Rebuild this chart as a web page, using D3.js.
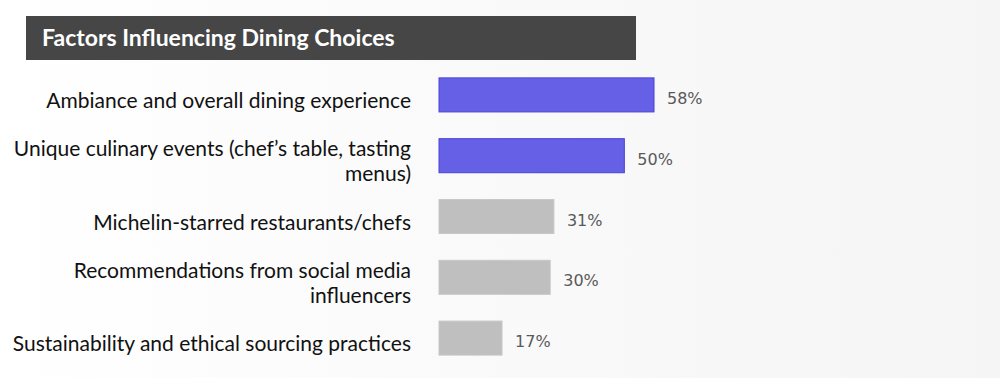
<!DOCTYPE html>
<html>
<head>
<meta charset="utf-8">
<script src="https://cdn.jsdelivr.net/npm/d3@7"></script>
<style>
  html, body { margin: 0; padding: 0; background: #fff; }
  svg { display: block; }
</style>
</head>
<body>
<div class="bar-chart"></div>
<script>
'use strict'

// Chart data.
const title = 'Factors Influencing Dining Choices';
const categories = [
    ['Ambiance and overall dining experience'],
    ['Unique culinary events (chef\u2019s table, tasting', 'menus)'],
    ['Michelin-starred restaurants/chefs'],
    ['Recommendations from social media', 'influencers'],
    ['Sustainability and ethical sourcing practices']
];
const values = [58, 50, 31, 30, 17];
const highlighted = [true, true, false, false, false];

// Dimensions.
let width = 1000,
    height = 378,
    barLeft = 439,
    labelRight = 411;

let svg = d3.select('.bar-chart')
    .append('svg')
    .attr('width', width)
    .attr('height', height);

// Soft background gradient.
let defs = svg.append('defs');
let grad = defs.append('linearGradient')
    .attr('id', 'bg')
    .attr('x1', '0%').attr('x2', '100%')
    .attr('y1', '0%').attr('y2', '0%');
grad.append('stop').attr('offset', '0%').attr('stop-color', '#ffffff');
grad.append('stop').attr('offset', '55%').attr('stop-color', '#f9f9f9');
grad.append('stop').attr('offset', '100%').attr('stop-color', '#f5f5f5');

svg.append('rect')
    .attr('width', width)
    .attr('height', height)
    .attr('fill', 'url(#bg)');

// Title banner.
svg.append('rect')
    .attr('x', 26)
    .attr('y', 16)
    .attr('width', 610)
    .attr('height', 44)
    .attr('fill', '#464646');

svg.append('text')
    .attr('x', 42)
    .attr('y', 46)
    .attr('fill', '#ffffff')
    .style('font-family', 'Lato, sans-serif')
    .style('font-weight', 'bold')
    .style('font-size', '23px')
    .text(title);

// Scales.
let idx = d3.range(values.length);

let x = d3.scaleLinear()
    .domain([0, 100])
    .range([barLeft, barLeft + 370.7]);

let y = d3.scaleBand()
    .domain(idx)
    .range([64.5, 368.5])
    .paddingInner(0.44)
    .paddingOuter(0.22);

// Bars.
svg.append('g')
    .attr('class', 'bars')
    .selectAll('rect')
    .data(idx)
    .join('rect')
    .attr('x', x(0))
    .attr('y', i => y(i))
    .attr('width', i => x(values[i]) - x(0))
    .attr('height', y.bandwidth())
    .attr('fill', i => highlighted[i] ? '#6560e6' : '#bfbfbf')
    .attr('stroke', i => highlighted[i] ? '#4a42d8' : '#c8c8c8')
    .attr('stroke-width', 1);

// Category labels (right aligned, possibly two lines).
let lineGap = 25;
svg.append('g')
    .attr('class', 'labels')
    .selectAll('text')
    .data(idx)
    .join('text')
    .attr('text-anchor', 'end')
    .attr('fill', '#111111')
    .style('font-family', 'Lato, sans-serif')
    .style('font-size', '21px')
    .each(function(i) {
        let lines = categories[i];
        let cy = y(i) + y.bandwidth() / 2;
        let first = cy + 13 - (lines.length - 1) * lineGap / 2;
        d3.select(this).selectAll('tspan')
            .data(lines)
            .join('tspan')
            .attr('x', labelRight)
            .attr('y', (d, k) => first + k * lineGap)
            .text(d => d);
    });

// Value labels.
svg.append('g')
    .attr('class', 'valueLabels')
    .selectAll('text')
    .data(idx)
    .join('text')
    .attr('x', i => x(values[i]) + 13)
    .attr('y', i => y(i) + y.bandwidth() / 2 + 9)
    .attr('fill', '#595959')
    .style('font-family', '"DejaVu Sans", sans-serif')
    .style('font-size', '16px')
    .text(i => values[i] + '%');
</script>
</body>
</html>
